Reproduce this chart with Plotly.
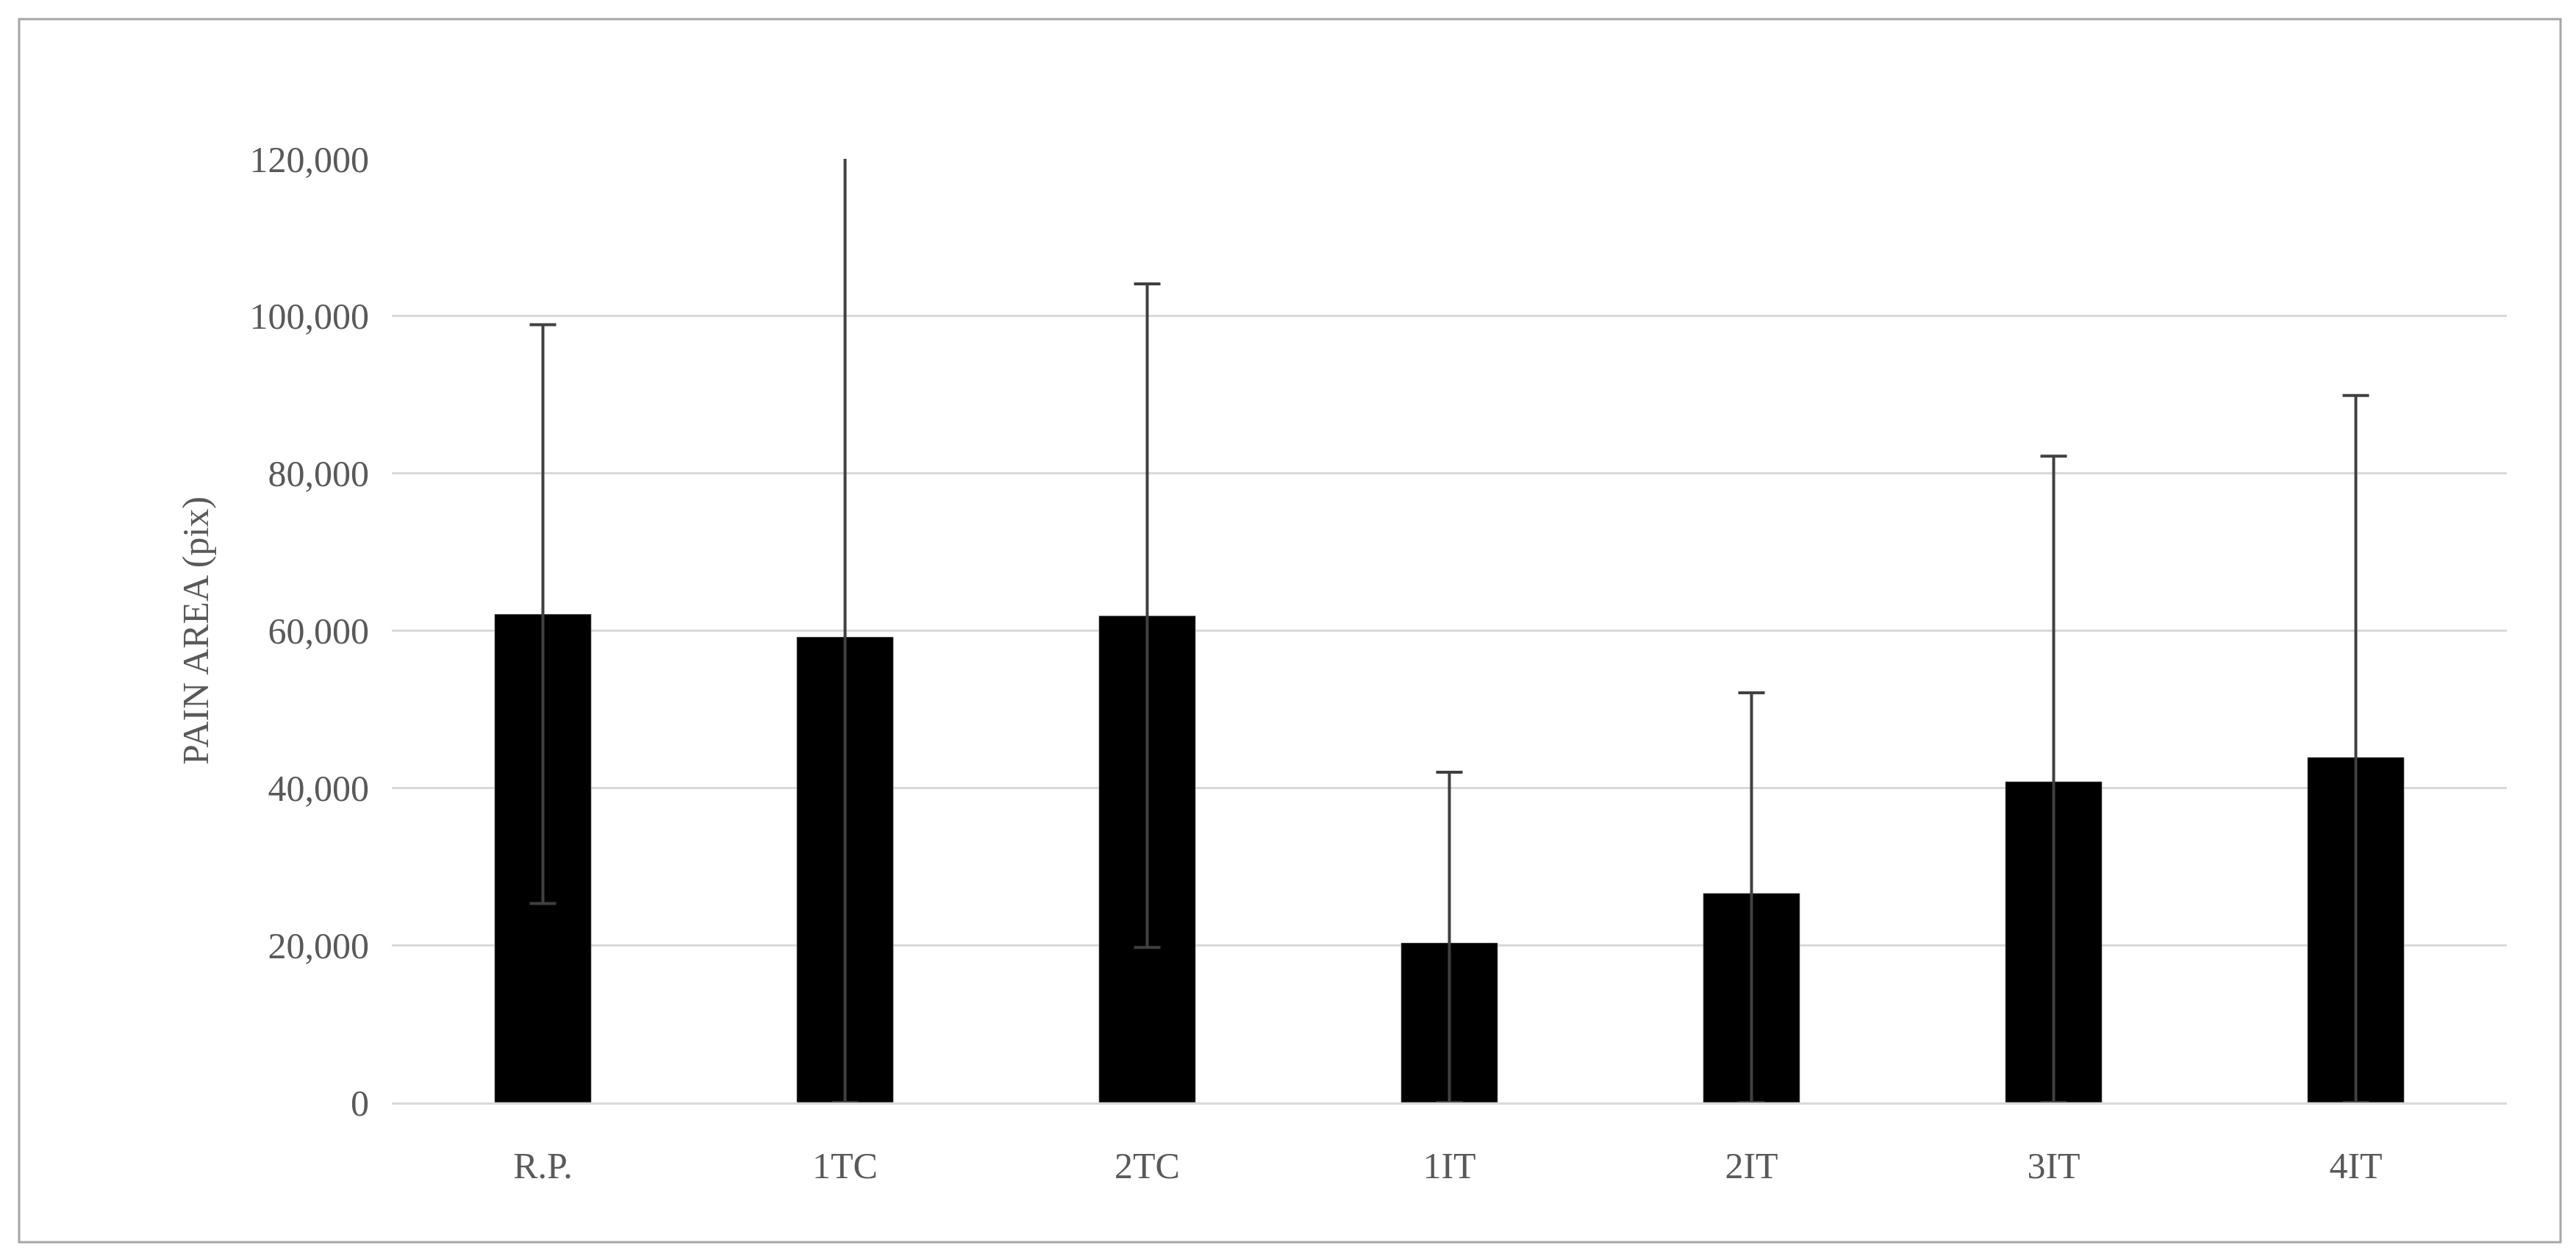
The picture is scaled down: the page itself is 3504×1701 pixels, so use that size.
import plotly.graph_objects as go

categories = ["R.P.", "1TC", "2TC", "1IT", "2IT", "3IT", "4IT"]
values = [62100, 59200, 61900, 20300, 26600, 40800, 43900]
err_plus = [36800, 61600, 42200, 21700, 25500, 41400, 46000]
err_minus = [36800, 59200, 42200, 20300, 26600, 40800, 43900]
tick_vals = [0, 20000, 40000, 60000, 80000, 100000, 120000]
tick_text = ["0", "20,000", "40,000", "60,000", "80,000", "100,000", "120,000"]

W, H = 3504, 1701
ml, mr, mt, mb = 525, 102, 208, 210
pw, ph = W - ml - mr, H - mt - mb

fig = go.Figure(go.Bar(
    x=categories, y=values, width=0.32, marker_color="#000000", cliponaxis=False,
    error_y=dict(type="data", symmetric=False, array=err_plus, arrayminus=err_minus,
                 color="#404040", thickness=4, width=18),
))
font = dict(family="Liberation Serif", color="#595959", size=50)
fig.update_layout(
    width=W, height=H, margin=dict(l=ml, r=mr, t=mt, b=mb),
    plot_bgcolor="white", paper_bgcolor="white", showlegend=False,
    font=font,
    xaxis=dict(showline=True, linecolor="#d9d9d9", linewidth=3, ticks="outside",
               tickcolor="rgba(0,0,0,0)", ticklen=40, tickfont=font),
    yaxis=dict(range=[0, 120000], tickvals=tick_vals, ticktext=tick_text,
               gridcolor="#d9d9d9", gridwidth=3, zeroline=False, tickfont=font,
               ticks="outside", tickcolor="rgba(0,0,0,0)", ticklen=20,
               title=dict(text="PAIN AREA (pix)", font=font, standoff=40)),
    shapes=[dict(type="rect", xref="paper", yref="paper",
                 x0=(18 - ml) / pw, x1=(W - 29 - ml) / pw,
                 y0=(H - mb - (H - 20)) / ph, y1=(H - mb - 18) / ph,
                 line=dict(color="#a6a6a6", width=3))],
)
fig.write_html("out.html")
